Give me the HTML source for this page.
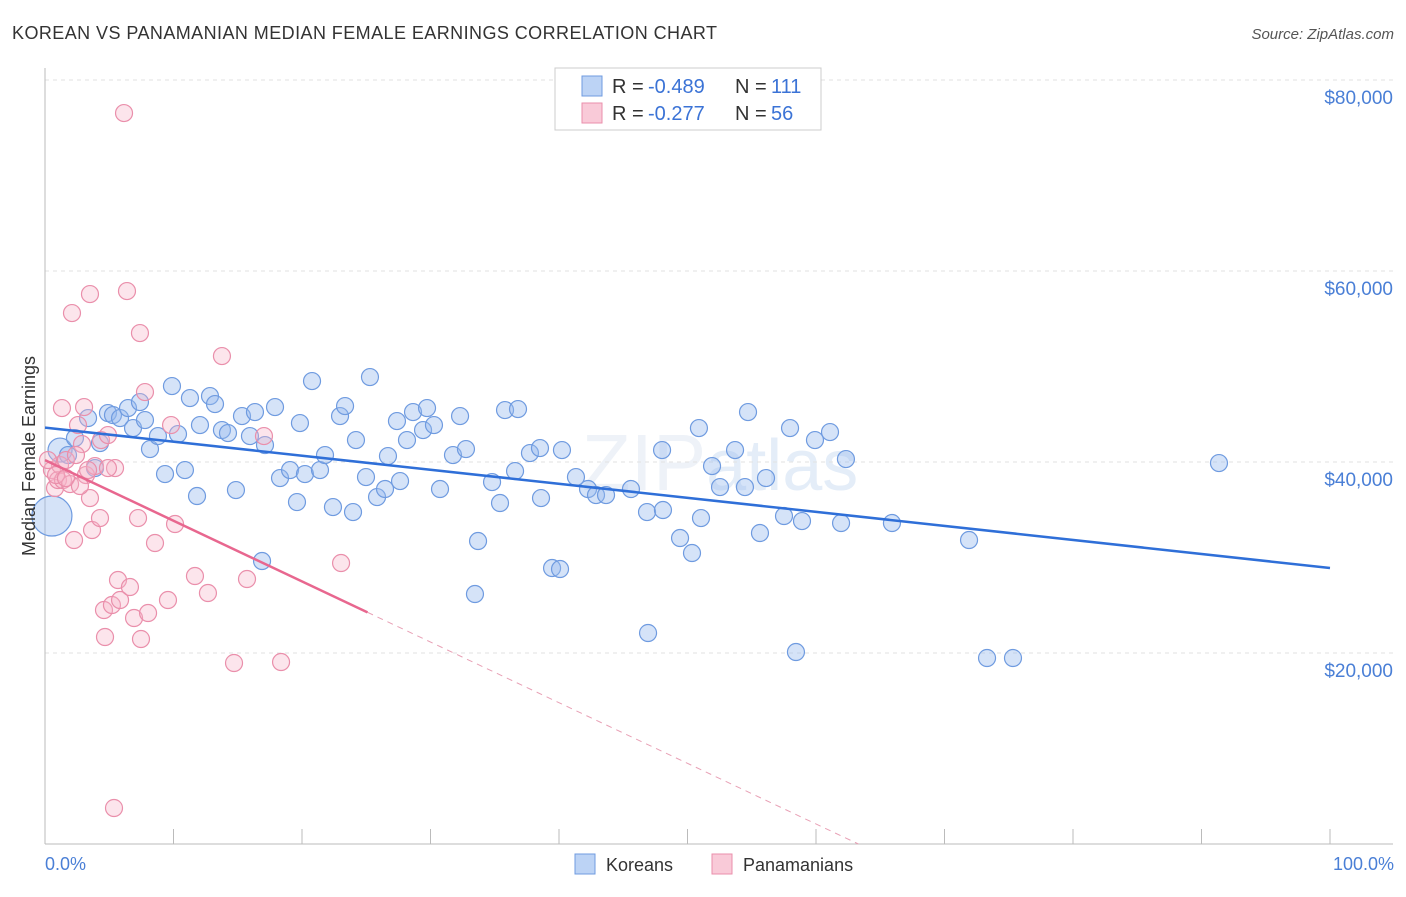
<!DOCTYPE html>
<html><head><meta charset="utf-8"><style>
body{margin:0;background:#fff;font-family:"Liberation Sans",sans-serif;}
svg text{font-family:"Liberation Sans",sans-serif;}
</style></head><body>
<svg id="c" width="1406" height="892">
<text x="12" y="39" font-size="18" fill="#333" textLength="705">KOREAN VS PANAMANIAN MEDIAN FEMALE EARNINGS CORRELATION CHART</text>
<text x="1394" y="39" font-size="15" fill="#555" font-style="italic" text-anchor="end">Source: ZipAtlas.com</text>
<text x="720" y="490" font-size="80" fill="#eef2f8" text-anchor="middle" font-family="Liberation Serif">ZIP<tspan font-family="Liberation Sans" font-size="72" fill="#e4edf8">atlas</tspan></text>
<g id="grid"></g><g id="axes"></g><g id="pts"></g><g id="lines"></g>
<text transform="translate(35,456) rotate(-90)" font-size="18" fill="#333" text-anchor="middle">Median Female Earnings</text>
<text x="45" y="870" font-size="18" fill="#4a7fd6">0.0%</text>
<text x="1394" y="870" font-size="18" fill="#4a7fd6" text-anchor="end">100.0%</text>
<g>
<rect x="555" y="68" width="266" height="62" fill="#fff" stroke="#ccc"/>
<rect x="582" y="76" width="20" height="20" fill="#bcd3f5" stroke="#6f9be0"/>
<rect x="582" y="103" width="20" height="20" fill="#f9cad8" stroke="#ea8fab"/>
<text x="612" y="93" font-size="20" fill="#333">R =</text>
<text x="648" y="93" font-size="20" fill="#3b73d6">-0.489</text>
<text x="735" y="93" font-size="20" fill="#333">N =</text>
<text x="771" y="93" font-size="20" fill="#3b73d6">111</text>
<text x="612" y="120" font-size="20" fill="#333">R =</text>
<text x="648" y="120" font-size="20" fill="#3b73d6">-0.277</text>
<text x="735" y="120" font-size="20" fill="#333">N =</text>
<text x="771" y="120" font-size="20" fill="#3b73d6">56</text>
</g>
<g>
<rect x="575" y="854" width="20" height="20" fill="#bcd3f5" stroke="#6f9be0"/>
<text x="606" y="871" font-size="18" fill="#333">Koreans</text>
<rect x="712" y="854" width="20" height="20" fill="#f9cad8" stroke="#ea8fab"/>
<text x="743" y="871" font-size="18" fill="#333">Panamanians</text>
</g>
</svg>
<script>
const yTicks=[20000,40000,60000,80000];
const yTickLabels=["$20,000","$40,000","$60,000","$80,000"];
const bluePx=[[52,516],[60,450],[68,455],[75,438],[88,418],[95,468],[100,443],[108,413],[113,415],[120,418],[128,408],[133,428],[140,402],[145,420],[150,449],[158,436],[165,474],[172,386],[178,434],[185,470],[190,398],[197,496],[200,425],[210,396],[215,404],[222,430],[228,433],[236,490],[242,416],[250,436],[255,412],[262,561],[265,445],[275,407],[280,478],[290,470],[297,502],[300,423],[305,474],[312,381],[320,470],[325,455],[333,507],[340,416],[345,406],[353,512],[356,440],[366,477],[370,377],[377,497],[385,489],[388,456],[397,421],[400,481],[407,440],[413,412],[423,430],[427,408],[434,425],[440,489],[453,455],[460,416],[466,449],[478,541],[475,594],[492,482],[500,503],[505,410],[515,471],[518,409],[530,453],[540,448],[541,498],[552,568],[560,569],[562,450],[576,477],[588,489],[596,495],[606,495],[631,489],[648,633],[647,512],[662,450],[663,510],[680,538],[692,553],[699,428],[701,518],[712,466],[720,487],[735,450],[745,487],[748,412],[760,533],[766,478],[784,516],[790,428],[796,652],[802,521],[815,440],[830,432],[841,523],[846,459],[892,523],[969,540],[987,658],[1013,658],[1219,463]];
const pinkPx=[[52,470],[55,488],[58,480],[60,465],[63,480],[66,460],[70,484],[62,408],[72,313],[74,540],[78,425],[82,444],[84,407],[86,475],[90,294],[90,498],[92,530],[95,466],[100,518],[101,440],[104,610],[105,637],[108,435],[112,605],[115,468],[118,580],[120,600],[124,113],[127,291],[130,587],[134,618],[138,518],[140,333],[141,639],[145,392],[148,613],[155,543],[168,600],[171,425],[175,524],[195,576],[208,593],[222,356],[234,663],[247,579],[264,436],[281,662],[341,563],[114,808],[48,460],[56,475],[76,455],[88,470],[108,468],[66,478],[80,486]];
const koreanX=bluePx.map(p=>+((p[0]-45)/12.85).toFixed(2));
const koreanY=bluePx.map(p=>Math.round((844-p[1])*104.7));
const panX=pinkPx.map(p=>+((p[0]-45)/12.85).toFixed(2));
const panY=pinkPx.map(p=>Math.round((844-p[1])*104.7));
const koreanTrend=[43600,28900];
const panTrend=[40200,0];
const X=v=>45+v*12.85, Y=v=>844-v/20000*191;
const NS="http://www.w3.org/2000/svg";
function mk(tag,attrs,parent){const e=document.createElementNS(NS,tag);for(const k in attrs)e.setAttribute(k,attrs[k]);document.getElementById(parent).appendChild(e);return e;}
yTicks.forEach((t,i)=>{
 const g=mk('line',{x1:45,x2:1393,y1:Y(t),y2:Y(t),stroke:'#e2e2e2','stroke-dasharray':'4,4'},'grid');
 
 
 const tx=mk('text',{x:1393,y:Y(t)+24,'font-size':19,fill:'#4a7fd6','text-anchor':'end'},'grid');
 tx.textContent=yTickLabels[i];
 
 
});
const ax=mk('line',{x1:45,x2:1393,y1:844,y2:844,stroke:'#bbb'},'axes');


const ay=mk('line',{x1:45,x2:45,y1:68,y2:844,stroke:'#bbb'},'axes');


for(let i=0;i<=10;i++){const t=mk('line',{x1:X(i*10),x2:X(i*10),y1:829,y2:844,stroke:'#bbb'},'axes');
 
 }
koreanX.forEach((x,i)=>{const c=mk('circle',{cx:X(x),cy:Y(koreanY[i]),r:i==0?20:(i==1?12:8.5),fill:'rgba(150,186,238,0.4)',stroke:'#6f9be0','stroke-width':1.2},'pts');
 
 });
panX.forEach((x,i)=>{const c=mk('circle',{cx:X(x),cy:Y(panY[i]),r:8.5,fill:'rgba(246,180,200,0.35)',stroke:'#ea8fab','stroke-width':1.2},'pts');
 
 });
const bl=mk('line',{x1:X(0),y1:Y(koreanTrend[0]),x2:X(100),y2:Y(koreanTrend[1]),stroke:'#2f6fd8','stroke-width':2.5},'lines');


const pxEnd=63.3, pSolid=25.1;
const py=x=>panTrend[0]+(panTrend[1]-panTrend[0])*x/pxEnd;
const pl=mk('line',{x1:X(0),y1:Y(panTrend[0]),x2:X(pSolid),y2:Y(py(pSolid)),stroke:'#e8678f','stroke-width':2.5},'lines');


const pd=mk('line',{x1:X(pSolid),y1:Y(py(pSolid)),x2:X(pxEnd),y2:Y(0),stroke:'#e8a0b5','stroke-width':1,'stroke-dasharray':'6,5'},'lines');


</script>
</body></html>
